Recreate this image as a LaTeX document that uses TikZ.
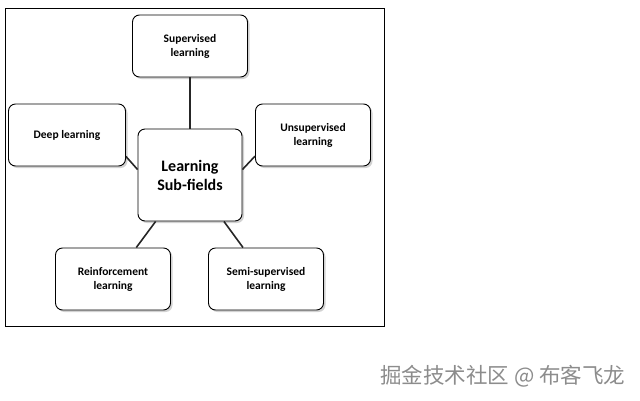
\documentclass[tikz,border=0pt]{standalone}
\usepackage{fontspec}
\setmainfont{Carlito}
\newfontfamily\cjk{Noto Sans CJK SC}
\usetikzlibrary{shadows}
\begin{document}
\begin{tikzpicture}[x=1pt,y=-1pt,
  box/.style={draw=black,line width=0.9pt,rounded corners=7pt,fill=white,align=center,
    font=\bfseries\fontsize{11.5}{14}\selectfont,minimum width=115pt,minimum height=62pt,
    drop shadow={shadow xshift=2pt,shadow yshift=-2pt,fill=black!35}},
  link/.style={line width=1.6pt,draw=black!85}]
\useasboundingbox (0,0) rectangle (640,400);
\draw[line width=0.8pt] (5,8) rectangle (384,326);
\node[box] (sup) at (190,46) {Supervised\\learning};
\node[box,minimum width=117pt] (deep) at (67,135) {Deep learning};
\node[box] (uns) at (313,135) {Unsupervised\\learning};
\node[box,minimum width=104pt,minimum height=92pt,font=\bfseries\fontsize{16}{19}\selectfont] (c) at (190,175) {Learning\\Sub-fields};
\node[box] (rei) at (113,279) {Reinforcement\\learning};
\node[box] (semi) at (266,279) {Semi-supervised\\learning};
\draw[link] (c) -- (sup);
\draw[link] (c.174) -- (deep.-20);
\draw[link] (c.6) -- (uns.-160);
\draw[link] (c) -- (rei);
\draw[link] (c) -- (semi);
\node[text=black!45,font=\cjk\fontsize{21.5}{24}\selectfont,anchor=east] (wm) at (629,376) {掘金技术社区 @ 布客飞龙};
\end{tikzpicture}
\end{document}
